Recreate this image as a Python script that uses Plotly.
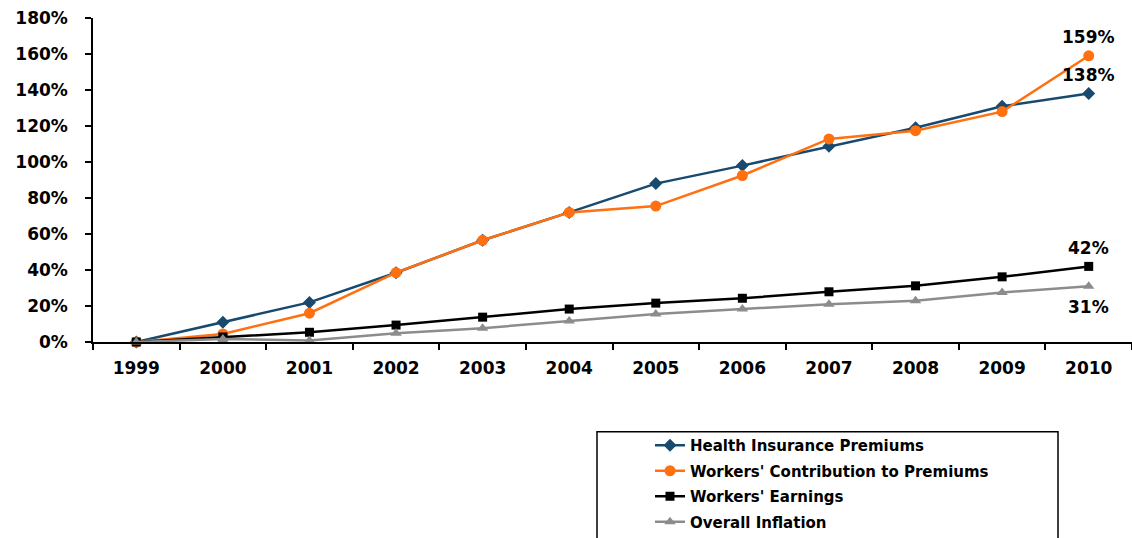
import plotly.graph_objects as go

years = ["1999", "2000", "2001", "2002", "2003", "2004", "2005",
         "2006", "2007", "2008", "2009", "2010"]

health_premiums = [0, 11, 22, 38.5, 56.5, 72, 88, 98, 108.7, 119, 131, 138]
worker_contrib = [0, 4.5, 16, 38.5, 56.5, 72, 75.5, 92.5, 112.8, 117.4, 128, 159]
worker_earnings = [0, 2.8, 5.4, 9.4, 13.8, 18.3, 21.6, 24.3, 27.9, 31.2, 36.2, 42]
overall_inflation = [0, 1.7, 0.9, 4.8, 7.7, 11.7, 15.5, 18.3, 21, 22.9, 27.5, 31]

y_ticks = [0, 20, 40, 60, 80, 100, 120, 140, 160, 180]
y_tick_text = [f"{v}%" for v in y_ticks]

FONT = "DejaVu Sans"
PLOT_TOP, PLOT_H = 18, 325  # pixel top of plot area and its height


def py(pix):
    """Convert a pixel row of the page to a paper y fraction."""
    return (PLOT_TOP + PLOT_H - pix) / PLOT_H


def px(pix):
    """Convert a pixel column of the page to a paper x fraction."""
    return (pix - 93) / 1039


series = [
    ("Health Insurance Premiums", health_premiums, "#174A6E", "diamond", 10),
    ("Workers' Contribution to Premiums", worker_contrib, "#FF7010", "circle", 11),
    ("Workers' Earnings", worker_earnings, "#000000", "square", 9),
    ("Overall Inflation", overall_inflation, "#8C8C8C", "triangle-up", 10),
]

fig = go.Figure()
for i, (name, vals, color, symbol, size) in enumerate(series):
    fig.add_trace(go.Scatter(
        x=years, y=vals, name=name, mode="lines+markers",
        line=dict(color=color, width=2.5),
        marker=dict(color=color, symbol=symbol, size=size),
        legendgroup=f"g{i}", cliponaxis=False,
    ))

# End-of-series value labels for 2010
last = years.index("2010")
end_labels = [(worker_contrib[-1], 19), (health_premiums[-1], 19),
              (worker_earnings[-1], 18), (overall_inflation[-1], -21)]
for val, shift in end_labels:
    fig.add_annotation(x=last, y=val, text=f"<b>{val}%</b>", showarrow=False,
                       yshift=shift, font=dict(family=FONT, size=17, color="black"))

# Legend frame
fig.add_shape(type="rect", xref="paper", yref="paper",
              x0=px(597), x1=px(1058), y0=py(560), y1=py(433),
              line=dict(color="black", width=1.5), fillcolor="rgba(0,0,0,0)")

fig.update_layout(
    width=1132, height=538,
    margin=dict(l=93, r=0, t=PLOT_TOP, b=538 - PLOT_TOP - PLOT_H),
    paper_bgcolor="white", plot_bgcolor="white",
    font=dict(family=FONT, size=17, color="black"),
    showlegend=True,
    legend=dict(
        x=px(650), xanchor="left",
        y=py(430), yanchor="top",
        traceorder="grouped", tracegroupgap=3,
        font=dict(family=FONT, size=15, color="black", weight="bold"),
        bgcolor="rgba(0,0,0,0)",
        itemwidth=30,
    ),
    xaxis=dict(
        type="category", showgrid=False, showline=True, linecolor="black",
        linewidth=1.5, ticks="outside", tickson="boundaries", ticklen=6,
        tickcolor="black", tickwidth=1.5,
        tickfont=dict(family=FONT, size=17, weight="bold"),
        ticklabelstandoff=10, range=[-0.5, 11.5],
    ),
    yaxis=dict(
        range=[0, 180], tickvals=y_ticks, ticktext=y_tick_text,
        showgrid=False, showline=True, linecolor="black", linewidth=1.5,
        ticks="outside", ticklen=6, tickcolor="black", tickwidth=1.5,
        tickfont=dict(family=FONT, size=17, weight="bold"),
        ticklabelstandoff=14, zeroline=False,
    ),
)

fig.write_html("out.html")
